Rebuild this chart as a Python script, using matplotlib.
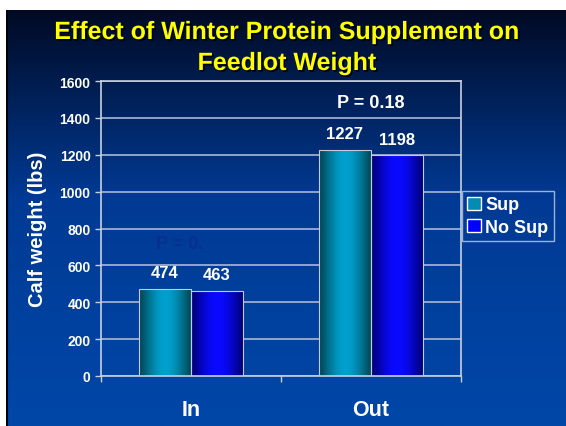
import numpy as np
import matplotlib.pyplot as plt
import matplotlib.patheffects as pe
from matplotlib.patches import Patch

plt.rcParams['font.family'] = ['Liberation Sans', 'DejaVu Sans']
plt.rcParams['font.weight'] = 'bold'

categories = ['In', 'Out']
series = ['Sup', 'No Sup']
sup_vals = [474, 1227]
nosup_vals = [463, 1198]
yticks = [0, 200, 400, 600, 800, 1000, 1200, 1400, 1600]
title_lines = ['Effect of Winter Protein Supplement on', 'Feedlot Weight']


def cyl(dark, light, n=64):
    # horizontal "cylinder" shading: dark edges, light middle
    d = np.array(dark) / 255.0
    l = np.array(light) / 255.0
    t = np.linspace(0, 1, n)
    w = np.sin(np.pi * t) ** 1.2
    row = d[None, :] * (1 - w[:, None]) + l[None, :] * w[:, None]
    return row[None, :, :]


fig = plt.figure(figsize=(5.66, 4.27), dpi=100)
fig.patch.set_facecolor('white')

# slide background
bg = fig.add_axes([6 / 566, 0, 560 / 566, 416 / 427])
bg.set_axis_off()
yy = np.linspace(0, 1, 300)[:, None]
top = np.array([0, 10, 36]) / 255.0
mid = np.array([0, 58, 148]) / 255.0
bot = np.array([0, 71, 168]) / 255.0
k = np.clip(yy / 0.45, 0, 1)
k2 = np.clip((yy - 0.45) / 0.55, 0, 1)
img = top * (1 - k) + mid * k
img = np.where(yy > 0.45, mid * (1 - k2) + bot * k2, img)
img = np.repeat(img[:, None, :], 2, axis=1)
bg.imshow(img, aspect='auto', extent=[0, 1, 1, 0])
bg.set_xlim(0, 1)
bg.set_ylim(1, 0)
bg.axvline(0.001, color='black', linewidth=1.5)

ax = fig.add_axes([101 / 566, 50 / 427, 360 / 566, 295 / 427])
ax.set_facecolor('none')

x = np.arange(len(categories))
w = 0.29
grads = [cyl((0, 70, 85), (0, 160, 205)), cyl((0, 0, 120), (10, 10, 255))]
for vals, off, g, lab in [(sup_vals, -w / 2, grads[0], series[0]),
                          (nosup_vals, w / 2, grads[1], series[1])]:
    bars = ax.bar(x + off, vals, w, color='none', edgecolor='#c8c8dc',
                  linewidth=0.8, zorder=3, label=lab)
    for b, v in zip(bars, vals):
        im = ax.imshow(g, aspect='auto', zorder=2.5,
                       extent=[b.get_x(), b.get_x() + b.get_width(), 0, v])
        im.set_clip_path(b)
        ax.annotate(str(v), (b.get_x() + b.get_width() / 2, v),
                    xytext=(0, 6), textcoords='offset points',
                    ha='center', va='bottom', color='white',
                    fontsize=12, fontweight='bold')

ax.set_xlim(-0.5, 1.5)
ax.set_ylim(0, 1600)
ax.set_yticks(yticks)
ax.yaxis.grid(True, color='#a8b8d8', linewidth=1.2, zorder=1)
ax.set_axisbelow(True)
ax.tick_params(axis='y', colors='#c8d0e0', length=4, width=1,
               labelcolor='white', labelsize=10)
ax.set_xticks([-0.5, 0.5, 1.5])
ax.set_xticklabels([])
ax.tick_params(axis='x', colors='#c8d0e0', length=4, width=1)
for xc, c in zip(x, categories):
    ax.annotate(c, (xc, 0), xycoords=('data', 'axes fraction'),
                xytext=(0, -24), textcoords='offset points', ha='center',
                va='center', color='white', fontsize=15.5, fontweight='bold')
for s in ax.spines.values():
    s.set_color('#c8d0e0')
    s.set_linewidth(1.2)

ax.set_ylabel('Calf weight (lbs)', color='white', fontsize=14.5,
              fontweight='bold', labelpad=9)

ax.text(-0.06, 716, 'P = 0.', color='#08308c', fontsize=13,
        fontweight='bold', ha='center', va='center', zorder=1.5)
ax.text(1.0, 1485, 'P = 0.18', color='white', fontsize=13,
        fontweight='bold', ha='center', va='center')

handles = [Patch(facecolor=(0, 0.55, 0.7), edgecolor='white'),
           Patch(facecolor=(0, 0, 1), edgecolor='white')]
leg = fig.legend(handles, series, loc='upper left',
                 bbox_to_anchor=(462 / 566, 1 - 192 / 427),
                 frameon=True, fontsize=13, handlelength=0.75,
                 handleheight=0.75, handletextpad=0.25, borderpad=0.3,
                 labelspacing=0.3, fancybox=False, borderaxespad=0)
leg.get_frame().set_facecolor('none')
leg.get_frame().set_edgecolor('#c8d0e0')
for t in leg.get_texts():
    t.set_color('white')
    t.set_fontweight('bold')

# title, drop shadow via path effects
shadow = [pe.withSimplePatchShadow(offset=(1.2, -1.2),
                                   shadow_rgbFace='black', alpha=0.9)]
for line, ypx in zip(title_lines, [33, 64]):
    fig.text(0.5 + 4 / 566, 1 - ypx / 427, line,
             ha='center', va='center', color='#ffff00', fontsize=18,
             fontweight='bold', path_effects=shadow)

fig.savefig('out.png', dpi=100, facecolor=fig.get_facecolor())
